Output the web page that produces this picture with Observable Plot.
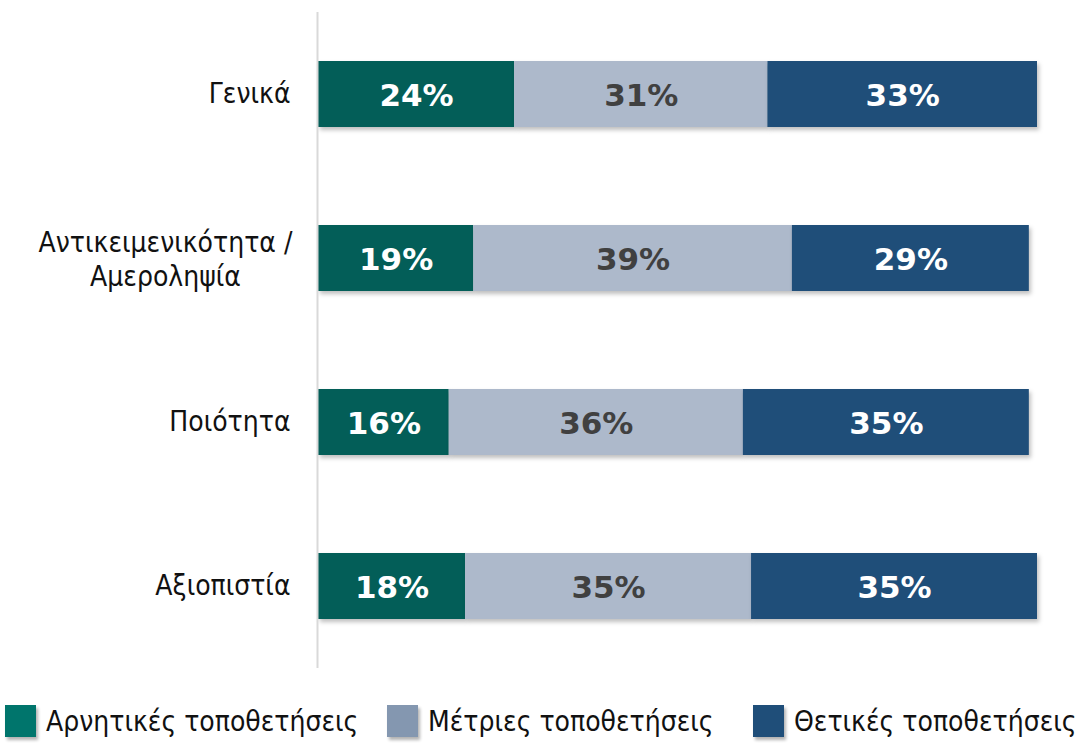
<!DOCTYPE html>
<html>
<head>
<meta charset="utf-8">
<script src="https://cdn.jsdelivr.net/npm/d3@7"></script>
<script src="https://cdn.jsdelivr.net/npm/@observablehq/plot@0.6"></script>
<style>
  html, body { margin: 0; padding: 0; background: #fff; }
  #chart svg { display: block; }
  .bars rect { filter: drop-shadow(2px 3px 2px rgba(0,0,0,0.25)); }
  #legend { display: flex; align-items: center; height: 50px; margin-top: 16px; font-family: "DejaVu Sans Condensed", "DejaVu Sans", sans-serif; font-size: 28px; color: #111; }
  .item { display: flex; align-items: center; }
  .sw { width: 31px; height: 32px; margin-right: 10px; box-shadow: 2px 3px 3px rgba(0,0,0,0.3); }
</style>
</head>
<body>
<div id="chart"></div>
<div id="legend"></div>
<script>
const categories = ["Γενικά", "Αντικειμενικότητα /\nΑμεροληψία", "Ποιότητα", "Αξιοπιστία"];
const seriesNames = ["Αρνητικές τοποθετήσεις", "Μέτριες τοποθετήσεις", "Θετικές τοποθετήσεις"];
const negative = [24, 19, 16, 18];
const moderate = [31, 39, 36, 35];
const positive = [33, 29, 35, 35];
const barColors = ["#035e58", "#adb9cb", "#1f4e79"];
const legendColors = ["#00756c", "#8497b0", "#1f4e79"];
const labelColors = ["#ffffff", "#404040", "#ffffff"];

const seriesValues = [negative, moderate, positive];
const data = [];
categories.forEach((c, i) => {
  seriesNames.forEach((s, j) => {
    data.push({category: c, series: s, sidx: j, value: seriesValues[j][i]});
  });
});

const multiLine = categories.filter(c => c.includes("\n"));

const chart = Plot.plot({
  width: 1084,
  height: 680,
  marginLeft: 318,
  marginRight: 47,
  marginTop: 12,
  marginBottom: 12,
  x: {domain: [0, 88], axis: null},
  y: {domain: categories, paddingInner: 0.6, paddingOuter: 0.3, label: null},
  color: {domain: seriesNames, range: barColors},
  style: {fontFamily: "'DejaVu Sans Condensed', 'DejaVu Sans', sans-serif"},
  marks: [
    Plot.barX(data, Plot.stackX({x: "value", y: "category", fill: "series", order: seriesNames, className: "bars"})),
    Plot.ruleX([0], {stroke: "#d9d9d9", strokeWidth: 2, dx: -1}),
    Plot.axisY({
      tickSize: 0, tickPadding: 28, fontSize: 28, fill: "#111",
      tickFormat: d => d.includes("\n") ? "" : d
    }),
    Plot.text(multiLine, {
      y: d => d, frameAnchor: "left", text: d => d, textAnchor: "middle",
      dx: -153, fontSize: 28, fill: "#111", lineHeight: 1.2
    }),
    ...seriesNames.map((s, j) => Plot.text(data, Plot.stackX({
      x: "value", y: "category", z: "series", order: seriesNames,
      text: d => d.sidx === j ? d.value + "%" : null,
      fill: labelColors[j],
      fontSize: 31, fontWeight: "bold", dy: 2,
      fontFamily: "'DejaVu Sans', sans-serif"
    })))
  ]
});
document.getElementById("chart").appendChild(chart);

const legend = document.getElementById("legend");
const widths = [382, 366, 331];
seriesNames.forEach((s, j) => {
  const item = document.createElement("div");
  item.className = "item";
  item.style.width = widths[j] + "px";
  if (j === 0) item.style.marginLeft = "5px";
  const sw = document.createElement("div");
  sw.className = "sw";
  sw.style.background = legendColors[j];
  const t = document.createElement("span");
  t.textContent = s;
  item.appendChild(sw);
  item.appendChild(t);
  legend.appendChild(item);
});
</script>
</body>
</html>
